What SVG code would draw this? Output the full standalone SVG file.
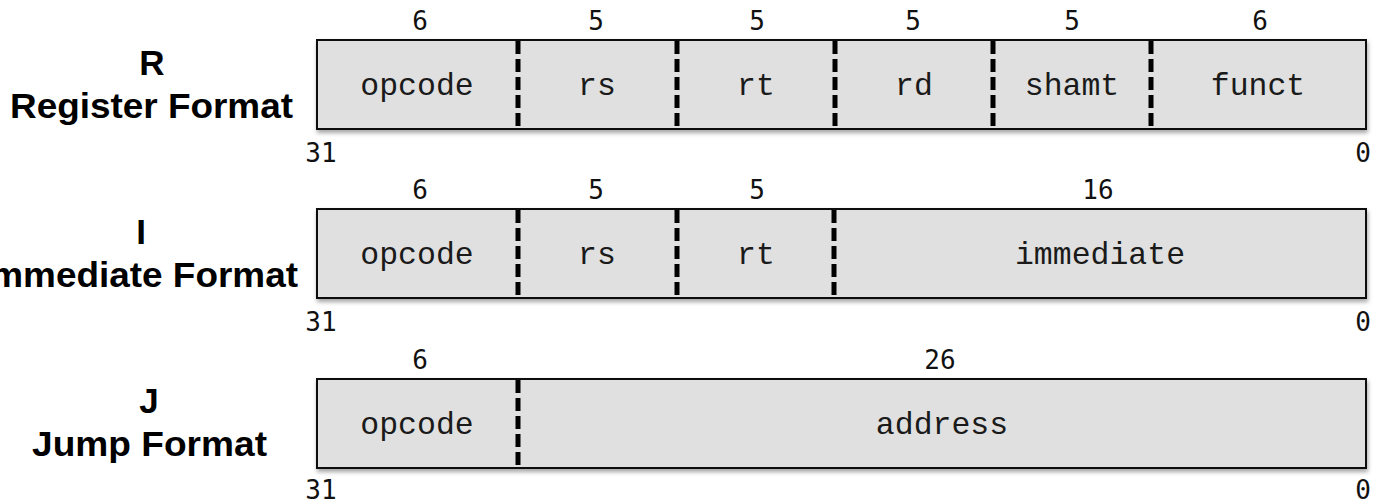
<svg xmlns="http://www.w3.org/2000/svg" width="1375" height="504" viewBox="0 0 1375 504">
  <defs>
    <filter id="shadow" x="-5%" y="-20%" width="110%" height="150%">
      <feDropShadow dx="1" dy="3" stdDeviation="2" flood-color="#000" flood-opacity="0.35"/>
    </filter>
  </defs>
  <style>
    .box { fill: #e0e0e0; stroke: #111; stroke-width: 2; }
    .div { stroke: #000; stroke-width: 5; stroke-dasharray: 13 5; fill: none; }
    .field { font-family: "Liberation Mono", "Courier New", monospace; font-size: 31.5px; fill: #1a1a1a; text-anchor: middle; }
    .bits { font-family: "DejaVu Sans Mono", Menlo, monospace; font-size: 26px; fill: #111; text-anchor: middle; }
    .fmt { font-family: "Liberation Sans", Arial, sans-serif; font-weight: bold; font-size: 35px; fill: #000; text-anchor: middle; }
  </style>

  <!-- R: register format -->
  <g id="r-format">
    <text class="fmt" x="152" y="75">R</text>
    <text class="fmt" x="151.5" y="118" textLength="283" lengthAdjust="spacingAndGlyphs">Register Format</text>
    <rect class="box" x="317" y="40" width="1049" height="89" filter="url(#shadow)"/>
    <text class="field" x="417" y="95">opcode</text>
    <text class="field" x="597" y="95">rs</text>
    <text class="field" x="756" y="95">rt</text>
    <text class="field" x="914" y="95">rd</text>
    <text class="field" x="1072" y="95">shamt</text>
    <text class="field" x="1258" y="95">funct</text>
    <text class="bits" x="420" y="30">6</text>
    <text class="bits" x="596" y="30">5</text>
    <text class="bits" x="757" y="30">5</text>
    <text class="bits" x="913" y="30">5</text>
    <text class="bits" x="1072" y="30">5</text>
    <text class="bits" x="1260" y="30">6</text>
    <text class="bits" x="321" y="162">31</text>
    <text class="bits" x="1363" y="162">0</text>
  </g>

  <!-- I: immediate format -->
  <g id="i-format">
    <text class="fmt" x="141" y="244">I</text>
    <text class="fmt" x="139" y="287" textLength="318" lengthAdjust="spacingAndGlyphs">Immediate Format</text>
    <rect class="box" x="317" y="209" width="1049" height="89" filter="url(#shadow)"/>
    <text class="field" x="417" y="264">opcode</text>
    <text class="field" x="597" y="264">rs</text>
    <text class="field" x="756" y="264">rt</text>
    <text class="field" x="1100" y="264">immediate</text>
    <text class="bits" x="420" y="199">6</text>
    <text class="bits" x="596" y="199">5</text>
    <text class="bits" x="757" y="199">5</text>
    <text class="bits" x="1098" y="199">16</text>
    <text class="bits" x="321" y="331">31</text>
    <text class="bits" x="1363" y="331">0</text>
  </g>

  <!-- J: jump format -->
  <g id="j-format">
    <text class="fmt" x="149" y="413">J</text>
    <text class="fmt" x="149.5" y="456" textLength="235" lengthAdjust="spacingAndGlyphs">Jump Format</text>
    <rect class="box" x="317" y="379" width="1049" height="89" filter="url(#shadow)"/>
    <text class="field" x="417" y="434">opcode</text>
    <text class="field" x="942" y="434">address</text>
    <text class="bits" x="420" y="369">6</text>
    <text class="bits" x="940" y="369">26</text>
    <text class="bits" x="321" y="499">31</text>
    <text class="bits" x="1363" y="499">0</text>
  </g>

  <!-- field boundaries -->
  <g id="connectors">
    <line class="div" x1="518" y1="41" x2="518" y2="128"/>
    <line class="div" x1="677" y1="41" x2="677" y2="128"/>
    <line class="div" x1="835" y1="41" x2="835" y2="128"/>
    <line class="div" x1="993" y1="41" x2="993" y2="128"/>
    <line class="div" x1="1151" y1="41" x2="1151" y2="128"/>
    <line class="div" x1="518" y1="210" x2="518" y2="297"/>
    <line class="div" x1="677" y1="210" x2="677" y2="297"/>
    <line class="div" x1="834" y1="210" x2="834" y2="297"/>
    <line class="div" x1="518" y1="380" x2="518" y2="467"/>
  </g>
</svg>
